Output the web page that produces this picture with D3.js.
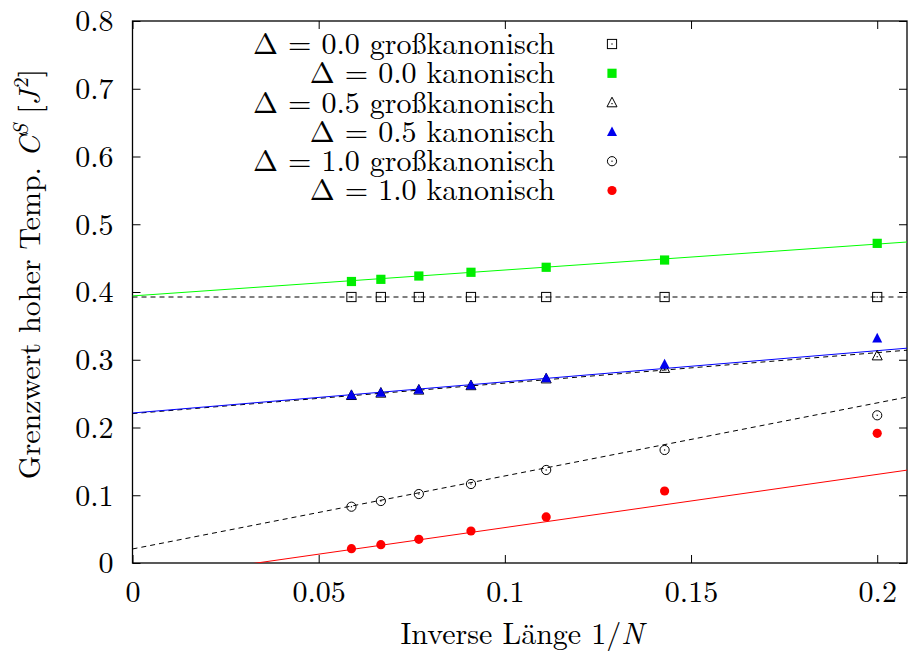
<!DOCTYPE html>
<html><head><meta charset="utf-8">
<script src="https://cdn.jsdelivr.net/npm/d3@7"></script>
<style>body{margin:0;background:#fff}svg{display:block}</style>
</head><body><svg id="c" width="908" height="657"></svg>
<script>
// ---- data ----
const invN = [0.0588, 0.0667, 0.0769, 0.0909, 0.1111, 0.1429, 0.2000];
const gk00 = [0.3926, 0.3926, 0.3926, 0.3926, 0.3926, 0.3926, 0.3926];
const k00  = [0.4155, 0.4187, 0.4236, 0.4291, 0.4365, 0.4472, 0.4718];
const gk05 = [0.2475, 0.2510, 0.2555, 0.2620, 0.2720, 0.2875, 0.3060];
const k05  = [0.2480, 0.2515, 0.2560, 0.2625, 0.2730, 0.2935, 0.3317];
const gk10 = [0.0831, 0.0915, 0.1018, 0.1166, 0.1373, 0.1668, 0.2180];
const k10  = [0.0211, 0.0270, 0.0350, 0.0472, 0.0680, 0.1063, 0.1914];
// linear fits: [intercept, slope]
const fitGk00 = [0.3926, 0.000];
const fitK00  = [0.3942, 0.3826];
const fitGk05 = [0.2205, 0.450];
const fitK05  = [0.2214, 0.460];
const fitGk10 = [0.0207, 1.078];
const fitK10  = [-0.0262, 0.785];
const xTicks = [0, 0.05, 0.1, 0.15, 0.2];
const xTickLabels = ["0", "0.05", "0.1", "0.15", "0.2"];
const yTicks = [0, 0.1, 0.2, 0.3, 0.4, 0.5, 0.6, 0.7, 0.8];
const yTickLabels = ["0", "0.1", "0.2", "0.3", "0.4", "0.5", "0.6", "0.7", "0.8"];
const legendLabels = ["\u0394 = 0.0 großkanonisch", "\u0394 = 0.0 kanonisch", "\u0394 = 0.5 großkanonisch",
                      "\u0394 = 0.5 kanonisch", "\u0394 = 1.0 großkanonisch", "\u0394 = 1.0 kanonisch"];

const series = [
  {y: gk00, fit: fitGk00, marker: "osq",  color: "#000", line: "#000", dash: true},
  {y: k00,  fit: fitK00,  marker: "fsq",  color: "#00ee00", line: "#00ff00", dash: false},
  {y: gk05, fit: fitGk05, marker: "otri", color: "#000", line: "#000", dash: true},
  {y: k05,  fit: fitK05,  marker: "ftri", color: "#0000ee", line: "#0000ff", dash: false},
  {y: gk10, fit: fitGk10, marker: "ocirc",color: "#000", line: "#000", dash: true},
  {y: k10,  fit: fitK10,  marker: "fcirc",color: "#ff0000", line: "#ff0000", dash: false}
];

const FONT = '"Latin Modern Roman", "Liberation Serif", serif';
const L = 132.5, R = 907, T = 21, B = 563;
const svg = d3.select("#c");
const x = d3.scaleLinear().domain([0, 0.208]).range([L, R]);
const y = d3.scaleLinear().domain([0, 0.8]).range([B, T]);

svg.append("defs").append("clipPath").attr("id","clip").append("rect")
  .attr("x", L).attr("y", T).attr("width", R - L).attr("height", B - T);

const fs = 30;
const ax = svg.append("g").attr("transform", `translate(0,${B})`)
  .call(d3.axisBottom(x).tickValues(xTicks).tickFormat((d,i)=>xTickLabels[i]).tickSizeInner(-8).tickSizeOuter(0));
const axTop = svg.append("g").attr("transform", `translate(0,${T})`)
  .call(d3.axisTop(x).tickValues(xTicks).tickFormat("").tickSizeInner(-8).tickSizeOuter(0));
const ay = svg.append("g").attr("transform", `translate(${L},0)`)
  .call(d3.axisLeft(y).tickValues(yTicks).tickFormat((d,i)=>yTickLabels[i]).tickSizeInner(-8).tickSizeOuter(0));
const ayR = svg.append("g").attr("transform", `translate(${R},0)`)
  .call(d3.axisRight(y).tickValues(yTicks).tickFormat("").tickSizeInner(-8).tickSizeOuter(0));
[ax, axTop, ay, ayR].forEach(g => {
  g.attr("font-family", null).attr("font-size", null);
  g.selectAll(".domain").remove();
  g.selectAll("line").attr("stroke", "#000").attr("stroke-width", 1);
  g.selectAll("text").style("font-family", FONT).style("font-size", fs + "px").attr("fill", "#000");
});
ax.selectAll("text").attr("y", 18).attr("dy", "0.71em");
ay.selectAll("text").attr("x", -19).attr("dy", "0.33em");
svg.append("rect").attr("x", L).attr("y", T).attr("width", R - L).attr("height", B - T)
  .attr("fill", "none").attr("stroke", "#000").attr("stroke-width", 1.3);

// fit lines
const plot = svg.append("g").attr("clip-path", "url(#clip)");
series.forEach(s => {
  const pts = x.domain().map(v => [v, s.fit[0] + s.fit[1] * v]);
  plot.append("path")
    .attr("d", d3.line().x(d => x(d[0])).y(d => y(d[1]))(pts))
    .attr("fill", "none").attr("stroke", s.line).attr("stroke-width", 1)
    .attr("stroke-dasharray", s.dash ? "5,4" : null);
});

function marker(g, type, color, cx, cy) {
  const r = 4.6;
  if (type === "osq" || type === "fsq") {
    g.append("rect").attr("x", cx - r).attr("y", cy - r).attr("width", 2*r).attr("height", 2*r)
      .attr("fill", type === "fsq" ? color : "none").attr("stroke", type === "fsq" ? "none" : color).attr("stroke-width", 1);
    if (type === "osq") g.append("rect").attr("x", cx - 0.6).attr("y", cy - 0.6).attr("width", 1.2).attr("height", 1.2).attr("fill", color);
  } else if (type === "otri" || type === "ftri") {
    const p = [[cx, cy - r - 0.8], [cx - r - 0.4, cy + r - 0.4], [cx + r + 0.4, cy + r - 0.4]];
    g.append("path").attr("d", "M" + p.join("L") + "Z")
      .attr("fill", type === "ftri" ? color : "none").attr("stroke", type === "ftri" ? "none" : color).attr("stroke-width", 1);
    if (type === "otri") g.append("rect").attr("x", cx - 0.6).attr("y", cy + 0.4).attr("width", 1.2).attr("height", 1.2).attr("fill", color);
  } else {
    g.append("circle").attr("cx", cx).attr("cy", cy).attr("r", r)
      .attr("fill", type === "fcirc" ? color : "none").attr("stroke", type === "fcirc" ? "none" : color).attr("stroke-width", 1);
    if (type === "ocirc") g.append("rect").attr("x", cx - 0.6).attr("y", cy - 0.6).attr("width", 1.2).attr("height", 1.2).attr("fill", color);
  }
}

// points
const pg = svg.append("g");
series.forEach(s => {
  s.y.forEach((v, i) => marker(pg, s.marker, s.color, x(invN[i]), y(v)));
});

// legend
const lg = svg.append("g");
legendLabels.forEach((lab, i) => {
  const ly = 44 + i * 29.3;
  lg.append("text").attr("x", 555).attr("y", ly).attr("dy", "0.33em")
    .attr("text-anchor", "end").style("font-family", FONT).style("font-size", fs + "px").text(lab);
  marker(lg, series[i].marker, series[i].color, 612, ly);
});

// axis titles
const xt = svg.append("text").attr("x", 522).attr("y", 644).attr("text-anchor", "middle")
  .style("font-family", FONT).style("font-size", fs + "px");
xt.append("tspan").text("Inverse Länge 1/");
xt.append("tspan").attr("font-style", "italic").text("N");

const yt = svg.append("text").attr("transform", "translate(40,274) rotate(-90)")
  .attr("text-anchor", "middle").style("font-family", FONT).style("font-size", fs + "px");
yt.append("tspan").text("Grenzwert hoher Temp. ");
yt.append("tspan").attr("font-style", "italic").text("C");
yt.append("tspan").attr("font-style", "italic").style("font-size", "21px").attr("dy", -12).text("S");
yt.append("tspan").attr("dy", 12).text(" [");
yt.append("tspan").attr("font-style", "italic").text("J");
yt.append("tspan").style("font-size", "21px").attr("dx", 2).attr("dy", -12).text("2");
yt.append("tspan").attr("dy", 12).text("]");
</script></body></html>
